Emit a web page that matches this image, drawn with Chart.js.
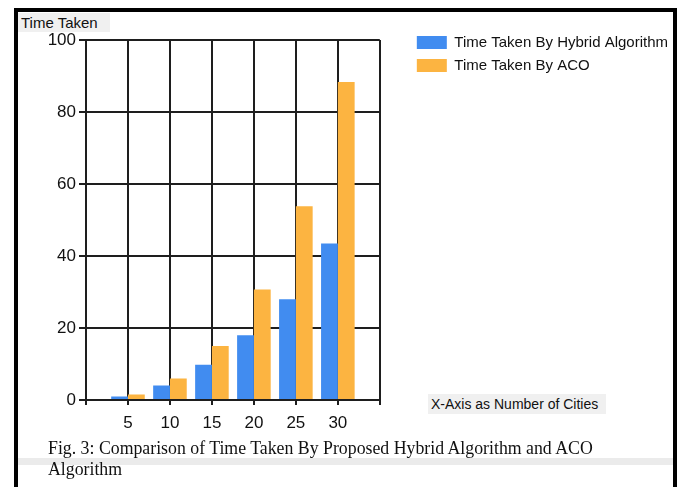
<!DOCTYPE html>
<html>
<head>
<meta charset="utf-8">
<title>Time Taken</title>
<script src="https://cdn.jsdelivr.net/npm/chart.js@4.4.0/dist/chart.umd.min.js"></script>
<style>
    html, body { margin: 0; padding: 0; background: #fff; }
    #wrap { position: relative; width: 680px; height: 487px; overflow: hidden; }
    #info-chart { position: absolute; left: 0; top: 0; }
    .line { position: absolute; background: #000; }
    .band { position: absolute; left: 14px; top: 458px; width: 660px; height: 7px; background: #ebebeb; }
    .tag {
        position: absolute; background: #f0f0f0; color: #111;
        font: 15px "Liberation Sans", Arial, sans-serif; line-height: 19px;
        white-space: nowrap; box-sizing: border-box;
    }
    #y-title { left: 18px; top: 13px; width: 92px; height: 19px; padding-left: 3px; }
    #x-title { left: 428px; top: 394px; width: 178px; height: 20px; padding-left: 3px; font-size: 14px; line-height: 20px; }
    .caption {
        position: absolute; left: 48px; top: 438px; color: #111;
        font: 17.8px "Liberation Serif", "Times New Roman", serif; line-height: 21px;
        white-space: nowrap;
    }
</style>
</head>
<body>
<div id="wrap">
    <canvas id="info-chart" width="680" height="487"></canvas>
    <div class="band"></div>
    <div class="line" style="left:14px;top:8px;width:663px;height:4px"></div>
    <div class="line" style="left:14px;top:8px;width:4px;height:479px"></div>
    <div class="line" style="left:673px;top:8px;width:4px;height:479px"></div>
    <div class="tag" id="y-title">Time Taken</div>
    <div class="tag" id="x-title">X-Axis as Number of Cities</div>
    <div class="caption">Fig. 3: Comparison of Time Taken By Proposed Hybrid Algorithm and ACO<br>Algorithm</div>
</div>
<script>
// data
const cities = ['5', '10', '15', '20', '25', '30'];
const hybridTime = [1, 4, 9.8, 18, 28, 43.5];
const acoTime = [1.5, 6, 15, 30.7, 53.8, 88.3];
const yTicks = [0, 20, 40, 60, 80, 100];

// empty slot at each end so grid lines sit on the cities, like the original
const labels = ['', ...cities, ''];
const pad = arr => [null, ...arr, null];

const gridColor = "#1e1e1e";
const tickFont = { family: "Liberation Sans", size: 17 };

const chart = document.querySelector("#info-chart").getContext("2d");

new Chart(chart, {
    type: "bar",
    data: {
        labels: labels,
        datasets: [
            {
                label: "Time Taken By Hybrid Algorithm",
                data: pad(hybridTime),
                backgroundColor: "#418CF0",
                borderWidth: 0
            },
            {
                label: "Time Taken By ACO",
                data: pad(acoTime),
                backgroundColor: "#FCB441",
                borderWidth: 0
            }
        ]
    },
    options: {
        responsive: false,
        animation: false,
        layout: { padding: { top: 27, left: 0, right: 2, bottom: 0 } },
        datasets: { bar: { categoryPercentage: 0.8, barPercentage: 1.0 } },
        plugins: {
            tooltip: { enabled: false },
            legend: {
                position: "right",
                align: "start",
                maxWidth: 320,
                labels: {
                    boxWidth: 30,
                    boxHeight: 13,
                    padding: 8,
                    color: "#111",
                    font: { family: "Liberation Sans", size: 15 }
                }
            }
        },
        scales: {
            x: {
                offset: false,
                grid: { offset: false, color: gridColor, lineWidth: 2, tickLength: 5 },
                border: { color: gridColor, width: 2 },
                ticks: { color: "#111", font: tickFont, padding: 8, maxRotation: 0, autoSkip: false },
                afterFit: s => { s.height = 87; }
            },
            y: {
                min: 0,
                max: 100,
                afterBuildTicks: s => { s.ticks = yTicks.map(v => ({ value: v })); },
                grid: { color: gridColor, lineWidth: 2, tickLength: 7 },
                border: { color: gridColor, width: 2 },
                ticks: { color: "#111", font: tickFont, padding: 3 },
                afterFit: s => { s.width = 86; }
            },
            // spacers only: push the plot down and away from the legend
            topSpace: {
                type: "linear", position: "top", display: true,
                grid: { display: false }, border: { display: false }, ticks: { display: false },
                afterFit: s => { s.height = 13; }
            },
            rightSpace: {
                type: "linear", position: "right", display: true,
                grid: { display: false }, border: { display: false }, ticks: { display: false },
                afterFit: s => { s.width = 29; }
            }
        }
    }
})
</script>
</body>
</html>
